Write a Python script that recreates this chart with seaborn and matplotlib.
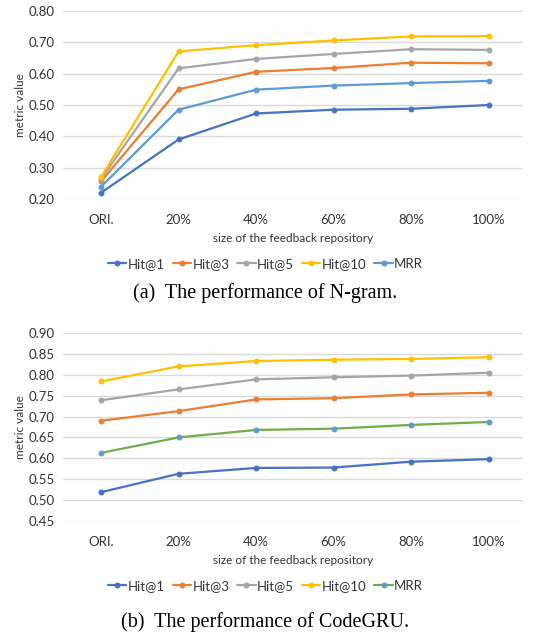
import numpy as np
import pandas as pd
import matplotlib
matplotlib.use("Agg")
import matplotlib.pyplot as plt
import seaborn as sns

# categories along x
sizes = ["ORI.", "20%", "40%", "60%", "80%", "100%"]
series_names = ["Hit@1", "Hit@3", "Hit@5", "Hit@10", "MRR"]

# (a) N-gram
ngram_hit1 = [0.220, 0.390, 0.473, 0.485, 0.488, 0.500]
ngram_hit3 = [0.256, 0.550, 0.606, 0.618, 0.635, 0.633]
ngram_hit5 = [0.264, 0.617, 0.647, 0.663, 0.678, 0.676]
ngram_hit10 = [0.270, 0.671, 0.691, 0.706, 0.719, 0.720]
ngram_mrr = [0.239, 0.485, 0.549, 0.562, 0.570, 0.577]

# (b) CodeGRU
gru_hit1 = [0.519, 0.563, 0.577, 0.578, 0.592, 0.598]
gru_hit3 = [0.690, 0.713, 0.741, 0.744, 0.753, 0.757]
gru_hit5 = [0.739, 0.765, 0.789, 0.794, 0.798, 0.805]
gru_hit10 = [0.784, 0.820, 0.833, 0.836, 0.838, 0.842]
gru_mrr = [0.613, 0.650, 0.668, 0.671, 0.680, 0.687]

blue = "#4472C4"
orange = "#ED7D31"
gray = "#A5A5A5"
yellow = "#FFC000"
lightblue = "#5B9BD5"
green = "#70AD47"

sns.set_theme(style="white")
plt.rcParams["font.family"] = ["Lato", "DejaVu Sans"]

fig = plt.figure(figsize=(5.35, 6.37), dpi=100)
ax1 = fig.add_axes([63 / 535, 1 - 199 / 637, 460 / 535, 188 / 637])
ax2 = fig.add_axes([63 / 535, 1 - 521 / 637, 460 / 535, 188 / 637])


def draw(ax, data, line_colors, marker_colors, ylim, yticks, caption, cap_y):
    x = np.arange(len(sizes))
    for name, vals, lc, mc in zip(series_names, data, line_colors, marker_colors):
        df = pd.DataFrame({"size": x, "value": vals})
        sns.lineplot(data=df, x="size", y="value", ax=ax, color=lc, lw=1.6,
                     marker="o", markersize=3.5, markerfacecolor=mc,
                     markeredgecolor=mc, label=name)
    ax.set_xlim(-0.49, 5.44)
    ax.set_ylim(*ylim)
    ax.set_yticks(yticks)
    ax.set_yticklabels([f"{t:.2f}" for t in yticks], fontsize=9.5, color="#333333")
    ax.set_xticks(x)
    ax.set_xticklabels(sizes, fontsize=9.5, color="#333333")
    ax.tick_params(axis="x", length=0, pad=11)
    ax.tick_params(axis="y", length=0, pad=6)
    ax.grid(axis="y", color="#D9D9D9", lw=1)
    ax.set_axisbelow(True)
    for s in ax.spines.values():
        s.set_visible(False)
    ax.set_xlabel("size of the feedback repository", fontsize=8.5, color="#333333", labelpad=5)
    ax.set_ylabel("metric value", fontsize=8.5, color="#333333", labelpad=2)
    ax.legend(loc="center", bbox_to_anchor=(0.44, -0.345), ncol=5, frameon=False,
              fontsize=9.5, handlelength=1.4, handletextpad=0.1, columnspacing=0.6,
              labelcolor="#333333")
    ax.text(0.44, cap_y, caption, transform=ax.transAxes, ha="center", va="center",
            fontsize=14.5, family="Liberation Serif", color="black")


draw(ax1, [ngram_hit1, ngram_hit3, ngram_hit5, ngram_hit10, ngram_mrr],
     [blue, orange, gray, yellow, lightblue],
     [blue, orange, gray, yellow, lightblue],
     (0.20, 0.80), [0.20, 0.30, 0.40, 0.50, 0.60, 0.70, 0.80],
     "(a)  The performance of N-gram.", -0.50)

draw(ax2, [gru_hit1, gru_hit3, gru_hit5, gru_hit10, gru_mrr],
     [blue, orange, gray, yellow, green],
     [blue, orange, gray, yellow, lightblue],
     (0.45, 0.90), [0.45, 0.50, 0.55, 0.60, 0.65, 0.70, 0.75, 0.80, 0.85, 0.90],
     "(b)  The performance of CodeGRU.", -0.54)

fig.savefig("out.png", dpi=100)
